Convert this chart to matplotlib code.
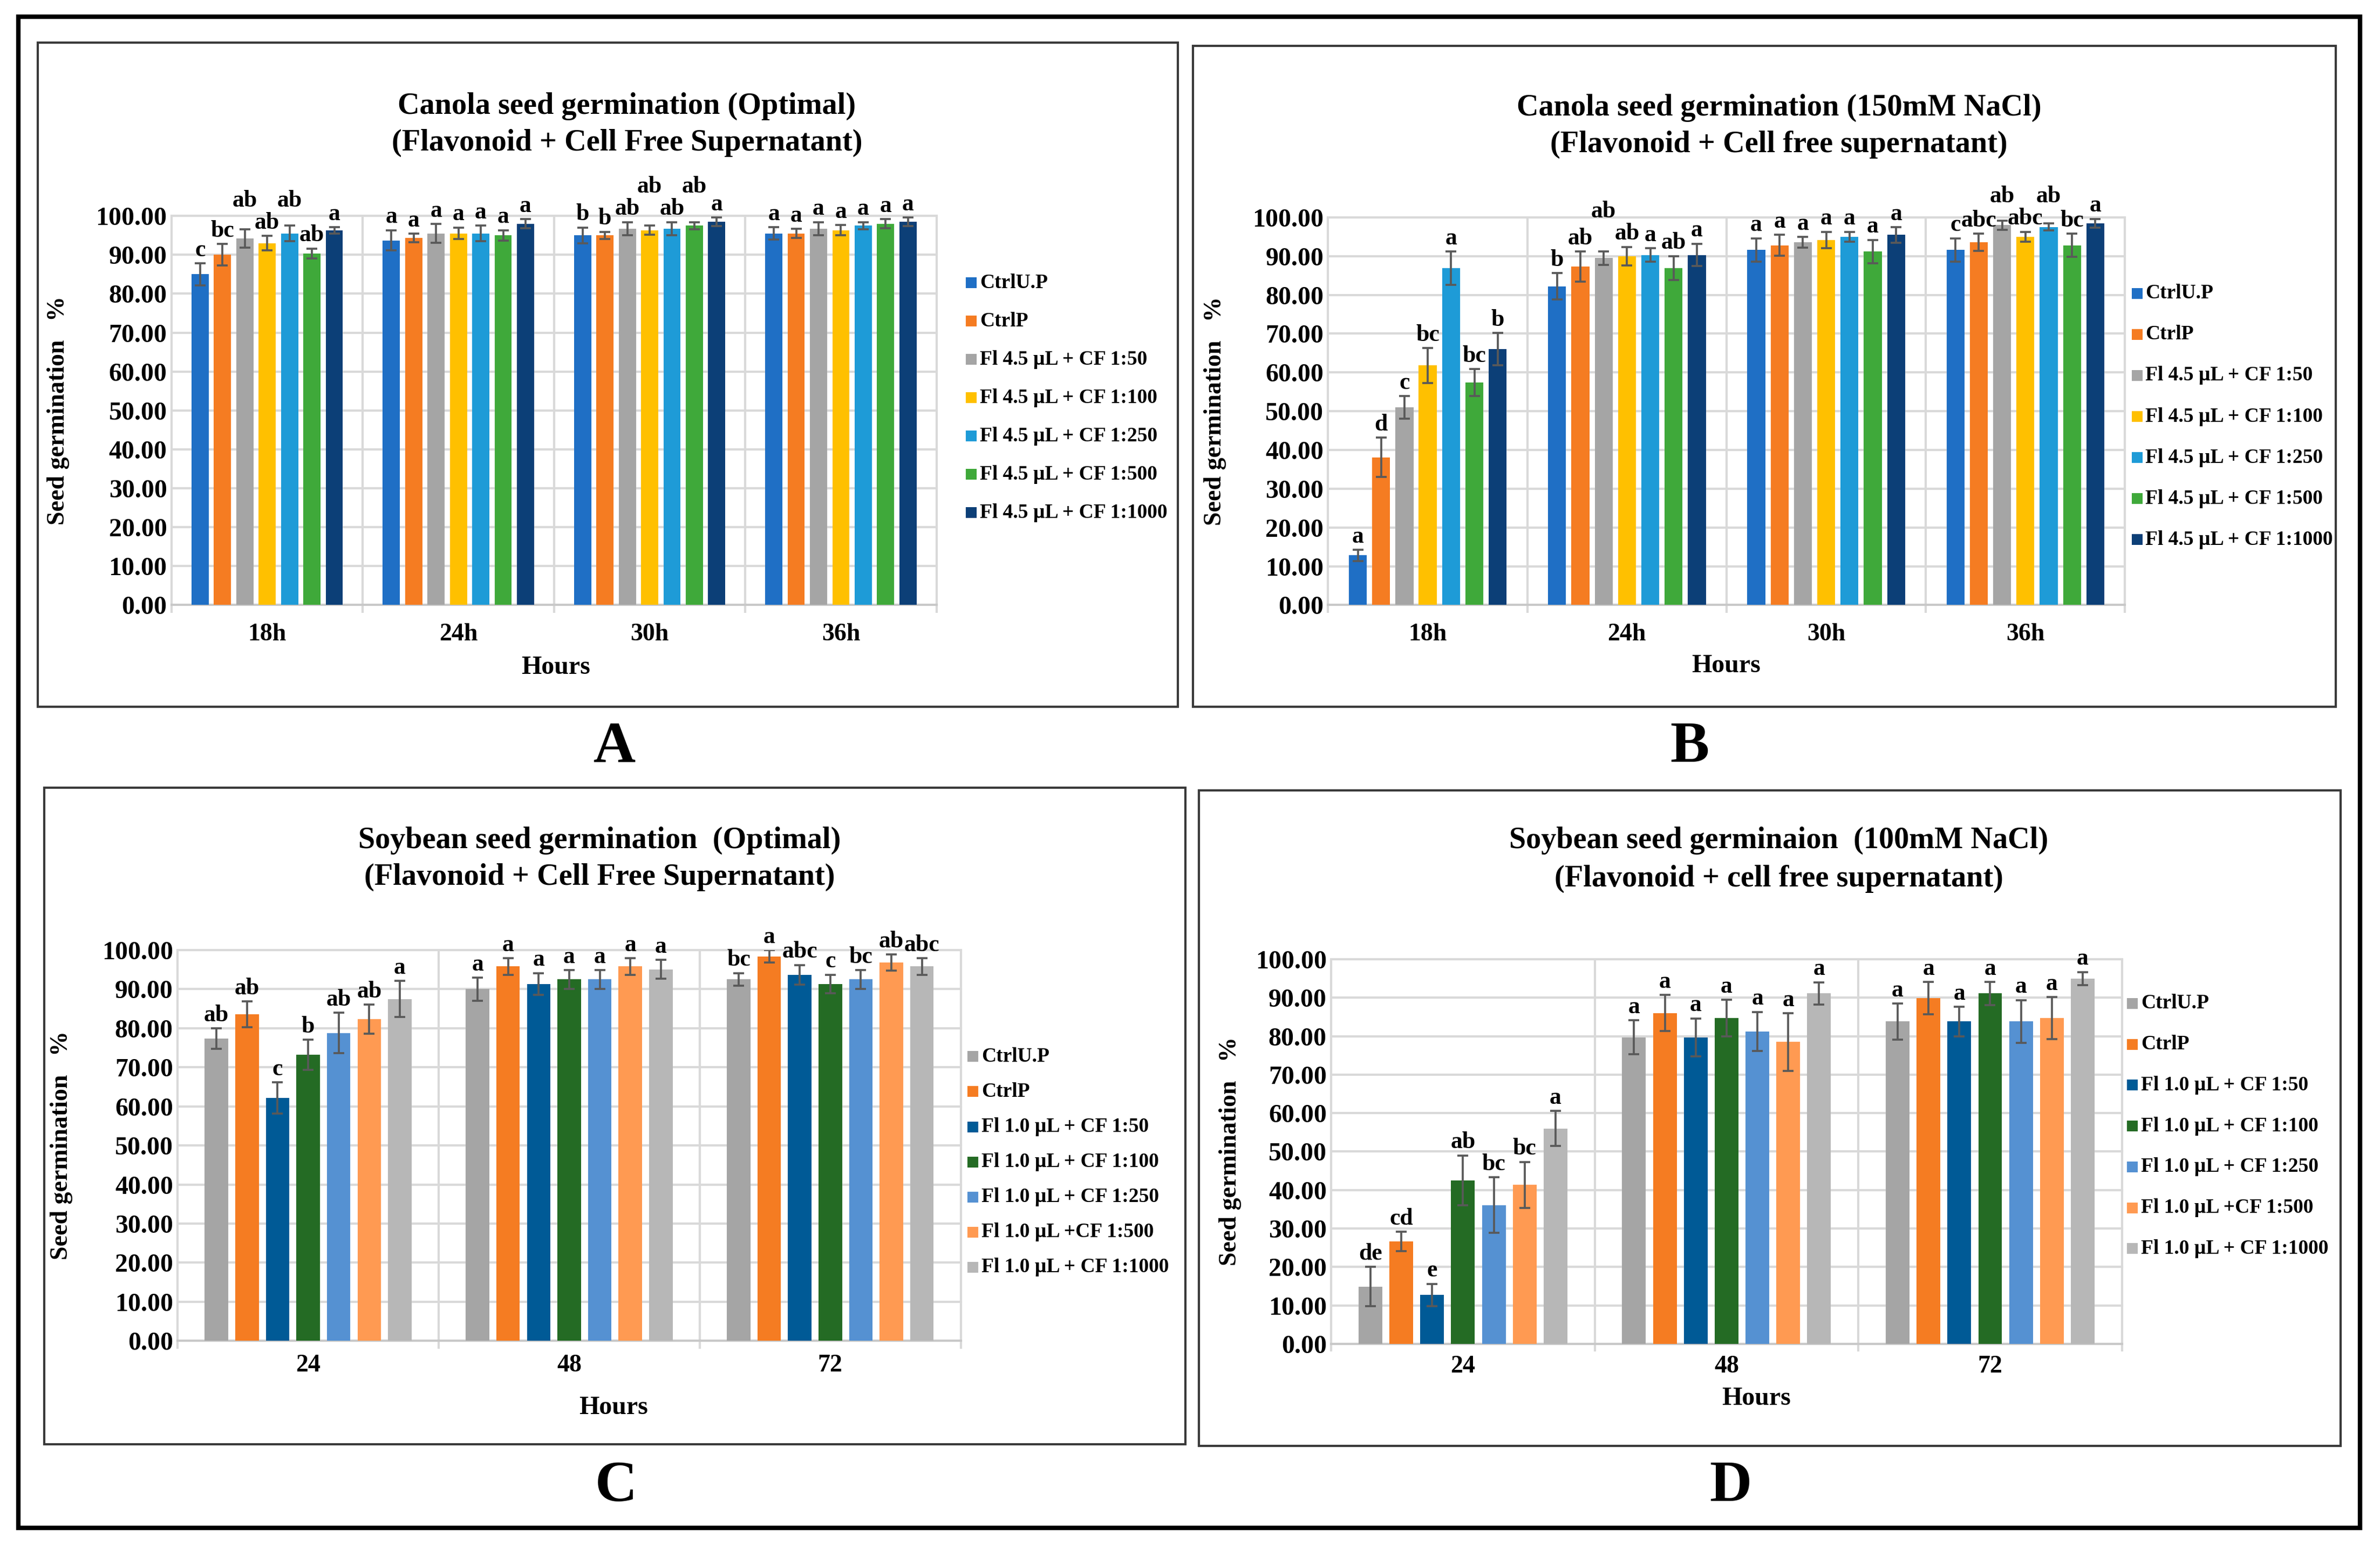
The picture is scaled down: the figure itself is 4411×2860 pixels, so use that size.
import matplotlib
matplotlib.use('Agg')
import matplotlib.pyplot as plt
from matplotlib.patches import Rectangle
from matplotlib.lines import Line2D
from matplotlib.ticker import FormatStrFormatter
import numpy as np

plt.rcParams['font.family'] = ['Liberation Serif', 'DejaVu Serif']
plt.rcParams['font.weight'] = 'bold'

# ---------------- DATA ----------------
groups_A = ['18h', '24h', '30h', '36h']
series_canola = ['CtrlU.P', 'CtrlP', 'Fl 4.5 µL + CF 1:50', 'Fl 4.5 µL + CF 1:100',
                 'Fl 4.5 µL + CF 1:250', 'Fl 4.5 µL + CF 1:500', 'Fl 4.5 µL + CF 1:1000']
colors_canola = ['#1F6FC5', '#F57C22', '#A5A5A5', '#FFC000', '#1E9BD7', '#3FA93A', '#0C3F77']

means_A = [[85.0, 93.7, 95.0, 95.5],
           [90.0, 94.3, 95.0, 95.5],
           [94.2, 95.5, 96.7, 96.7],
           [93.0, 95.5, 96.3, 96.3],
           [95.5, 95.5, 96.7, 97.5],
           [90.3, 95.0, 97.5, 98.0],
           [96.3, 98.0, 98.5, 98.5]]
err_A = [[2.8, 2.6, 2.0, 1.6],
         [2.8, 1.1, 0.9, 1.2],
         [2.4, 2.4, 1.7, 1.7],
         [1.9, 1.5, 1.2, 1.3],
         [2.0, 2.0, 1.7, 0.9],
         [1.3, 1.3, 0.9, 1.2],
         [0.8, 1.2, 1.1, 1.1]]
letters_A = [['c', 'a', 'b', 'a'],
             ['bc', 'a', 'b', 'a'],
             ['ab', 'a', 'ab', 'a'],
             ['ab', 'a', 'ab', 'a'],
             ['ab', 'a', 'ab', 'a'],
             ['ab', 'a', 'ab', 'a'],
             ['a', 'a', 'a', 'a']]

groups_B = ['18h', '24h', '30h', '36h']
means_B = [[12.8, 82.2, 91.6, 91.6],
           [38.1, 87.3, 92.8, 93.6],
           [51.0, 89.5, 93.6, 98.0],
           [61.8, 90.0, 94.2, 95.0],
           [86.9, 90.3, 95.0, 97.5],
           [57.4, 86.9, 91.2, 92.8],
           [66.0, 90.3, 95.5, 98.5]]
err_B = [[1.4, 3.4, 3.0, 3.0],
         [5.1, 3.9, 2.7, 2.2],
         [2.9, 1.7, 1.4, 1.2],
         [4.5, 2.4, 2.1, 1.3],
         [4.3, 1.7, 1.3, 0.9],
         [3.5, 3.1, 3.0, 3.0],
         [4.2, 2.9, 2.0, 1.1]]
letters_B = [['a', 'b', 'a', 'c'],
             ['d', 'ab', 'a', 'abc'],
             ['c', 'ab', 'a', 'ab'],
             ['bc', 'ab', 'a', 'abc'],
             ['a', 'a', 'a', 'ab'],
             ['bc', 'ab', 'a', 'bc'],
             ['b', 'a', 'a', 'a']]

groups_C = ['24', '48', '72']
series_soy = ['CtrlU.P', 'CtrlP', 'Fl 1.0 µL + CF 1:50', 'Fl 1.0 µL + CF 1:100',
              'Fl 1.0 µL + CF 1:250', 'Fl 1.0 µL +CF 1:500', 'Fl 1.0 µL + CF 1:1000']
colors_soy = ['#A5A5A5', '#F57C22', '#005A96', '#246B24', '#5591D2', '#FF9A52', '#B7B7B7']

means_C = [[77.4, 90.0, 92.5],
           [83.6, 95.8, 98.4],
           [62.2, 91.3, 93.7],
           [73.2, 92.5, 91.3],
           [78.8, 92.5, 92.5],
           [82.3, 95.8, 96.8],
           [87.5, 95.1, 95.8]]
err_C = [[2.6, 2.9, 1.6],
         [3.3, 2.1, 1.6],
         [4.0, 2.8, 2.5],
         [3.9, 2.4, 2.4],
         [5.2, 2.4, 2.4],
         [3.7, 2.1, 2.1],
         [4.6, 2.4, 2.1]]
letters_C = [['ab', 'a', 'bc'],
             ['ab', 'a', 'a'],
             ['c', 'a', 'abc'],
             ['b', 'a', 'c'],
             ['ab', 'a', 'bc'],
             ['ab', 'a', 'ab'],
             ['a', 'a', 'abc']]

groups_D = ['24', '48', '72']
means_D = [[14.9, 79.7, 83.8],
           [26.6, 86.0, 89.9],
           [12.7, 79.7, 83.8],
           [42.5, 84.7, 91.1],
           [36.1, 81.2, 83.8],
           [41.3, 78.5, 84.7],
           [56.0, 91.1, 95.0]]
err_D = [[5.1, 4.4, 4.7],
         [2.5, 4.7, 4.2],
         [2.9, 4.9, 3.8],
         [6.5, 4.8, 3.0],
         [7.2, 5.1, 5.6],
         [6.0, 7.5, 5.5],
         [4.6, 2.9, 1.7]]
letters_D = [['de', 'a', 'a'],
             ['cd', 'a', 'a'],
             ['e', 'a', 'a'],
             ['ab', 'a', 'a'],
             ['bc', 'a', 'a'],
             ['bc', 'a', 'a'],
             ['a', 'a', 'a']]

titles_A = ['Canola seed germination (Optimal)', '(Flavonoid + Cell Free Supernatant)']
titles_B = ['Canola seed germination (150mM NaCl)', '(Flavonoid + Cell free supernatant)']
titles_C = ['Soybean seed germination  (Optimal)', '(Flavonoid + Cell Free Supernatant)']
titles_D = ['Soybean seed germinaion  (100mM NaCl)', '(Flavonoid + cell free supernatant)']

# ---------------- LAYOUT ----------------
W, H = 1568.0, 1015.0
fig = plt.figure(figsize=(4411 / 300, 2860 / 300), dpi=300)
fig.patch.set_facecolor('white')


def fx(x):
    return x / W


def fy(y):
    return 1 - y / H


def frame(x0, y0, x1, y1, lw, color):
    fig.add_artist(Rectangle((fx(x0), fy(y1)), fx(x1) - fx(x0), fy(y0) - fy(y1),
                             transform=fig.transFigure, fill=False, lw=lw, ec=color))


frame(12, 11, 1555, 1005, 2.0, 'black')

all_texts = []


def panel(box, plot, titles, title_xy, groups, labels, means, errs, letters, colors,
          leg_x, leg_y0, leg_dy, ylab_x, xlab_xy, xpad, letter, letter_xy):
    frame(*box, 1.0, '#3a3a3a')
    x0, y0, x1, y1 = plot
    ax = fig.add_axes([fx(x0), fy(y1), fx(x1) - fx(x0), fy(y0) - fy(y1)])
    n = len(groups)
    k = len(labels)
    pitch, bw = 0.117, 0.09
    texts = []
    for j in range(k):
        xs = np.arange(n) + (j - (k - 1) / 2) * pitch
        m = np.array(means[j])
        e = np.array(errs[j])
        ax.bar(xs, m, width=bw, color=colors[j], zorder=3, label=labels[j])
        ax.errorbar(xs, m, yerr=e, fmt='none', ecolor='#595959', elinewidth=0.9,
                    capsize=2.4, capthick=0.9, zorder=4)
        row = []
        for g in range(n):
            t = ax.text(xs[g], m[g] + e[g] + 0.6, letters[j][g], ha='center', va='bottom',
                        fontsize=10.5, fontweight='bold', zorder=5, clip_on=False)
            row.append(t)
        texts.append(row)
    all_texts.append((ax, texts, n, k))
    ax.set_xlim(-0.5, n - 0.5)
    ax.set_ylim(0, 100)
    ax.set_yticks(np.arange(0, 101, 10))
    ax.yaxis.set_major_formatter(FormatStrFormatter('%.2f'))
    ax.set_xticks(np.arange(n))
    ax.set_xticklabels(groups)
    for s in ax.spines.values():
        s.set_visible(False)
    ax.tick_params(axis='y', length=0, pad=2, labelsize=11.5)
    ax.tick_params(axis='x', length=0, pad=xpad, labelsize=11)
    for v in np.arange(10, 101, 10):
        ax.axhline(v, color='#D9D9D9', lw=1.0, zorder=1, clip_on=False)
    ax.axhline(0, color='#C8C8C8', lw=1.0, zorder=2, clip_on=False)
    ax.vlines(np.arange(n + 1) - 0.5, -2.0, 100, color='#D9D9D9', lw=1.0,
              clip_on=False, zorder=1)
    ax.set_ylabel('Seed germination   %', fontsize=11, fontweight='bold')
    ax.yaxis.set_label_coords((ylab_x - x0) / (x1 - x0), 0.5)
    ax.set_xlabel('Hours', fontsize=11.5, fontweight='bold')
    ax.xaxis.set_label_coords((xlab_xy[0] - x0) / (x1 - x0), (y1 - xlab_xy[1]) / (y1 - y0))
    ax.xaxis.label.set_va('center')

    # titles
    for line, ty in zip(titles, title_xy[1]):
        fig.text(fx(title_xy[0]), fy(ty), line, ha='center', va='center',
                 fontsize=13.5, fontweight='bold')
    # legend
    for j in range(k):
        ly = leg_y0 + j * leg_dy
        fig.add_artist(Line2D([fx(leg_x)], [fy(ly)], marker='s', ms=4.6, mew=0,
                              color=colors[j], transform=fig.transFigure))
        fig.text(fx(leg_x + 5.5), fy(ly), labels[j], ha='left', va='center',
                 fontsize=9, fontweight='bold')
    # panel letter
    fig.text(fx(letter_xy[0]), fy(letter_xy[1]), letter, ha='center', va='center',
             fontsize=26, fontweight='bold')
    return ax


panel((25, 28, 776, 465), (113, 142, 617, 398), titles_A, (413, (70, 94)),
      groups_A, series_canola, means_A, err_A, letters_A, colors_canola,
      640, 186, 25.2, 46, (366, 439), 8, 'A', (405, 492))
panel((786, 30, 1539, 465), (875, 143, 1400, 398), titles_B, (1172, (71, 95)),
      groups_B, series_canola, means_B, err_B, letters_B, colors_canola,
      1408, 193, 27.0, 808, (1137, 438), 8, 'B', (1113, 492))
panel((29, 518, 781, 950), (117, 625, 633, 882), titles_C, (395, (553, 577)),
      groups_C, series_soy, means_C, err_C, letters_C, colors_soy,
      641, 695, 23.1, 48, (404, 926), 6, 'C', (406, 978))
panel((790, 520, 1542, 951), (877, 631, 1398, 884), titles_D, (1172, (553, 578)),
      groups_D, series_soy, means_D, err_D, letters_D, colors_soy,
      1405, 660, 26.9, 818, (1157, 920), 5, 'D', (1140, 978))

# stagger overlapping significance letters (alternating, like the original)
fig.canvas.draw()
r = fig.canvas.get_renderer()


def move_up(ax, t, shift_px):
    x, y = t.get_position()
    disp = ax.transData.transform((x, y)) + np.array([0, shift_px])
    _, ynew = ax.transData.inverted().transform(disp)
    t.set_position((x, ynew))


def overlap(a, b):
    hov = min(a.x1, b.x1) - max(a.x0, b.x0)
    vov = min(a.y1, b.y1) - max(a.y0, b.y0)
    return hov, vov


for ax, texts, n, k in all_texts:
    for g in range(n):
        prev = None
        prev_shifted = False
        for j in range(k):
            t = texts[j][g]
            bb = t.get_window_extent(r)
            shifted = False
            if prev is not None:
                pb = prev.get_window_extent(r)
                hov, vov = overlap(bb, pb)
                if hov > 1 and vov > 0:
                    if not prev_shifted:
                        move_up(ax, t, pb.y1 - bb.y0 + 1)
                        shifted = True
                    else:
                        # lift the previous (already raised) label clear of this one
                        move_up(ax, prev, bb.y1 - pb.y0 + 1)
            prev = t
            prev_shifted = shifted

fig.savefig('out.png', dpi=300, facecolor='white')
